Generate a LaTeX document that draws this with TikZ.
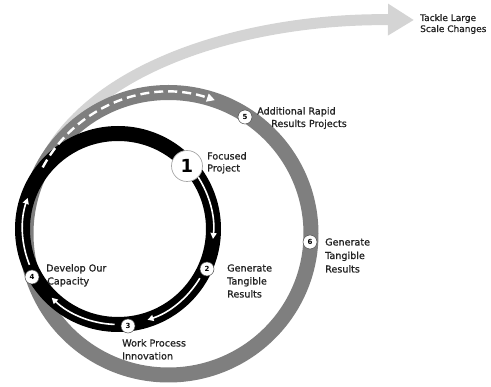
\documentclass[tikz,border=0pt]{standalone}
\usepackage{fontspec}
\setmainfont{DejaVu Sans}
\newfontfamily\lblfont[FakeBold=0.9]{DejaVu Sans}
\usetikzlibrary{arrows.meta,calc}
\definecolor{ringgray}{HTML}{7F7F7F}
\definecolor{lightarrow}{HTML}{D4D4D4}
\definecolor{txt}{HTML}{222222}
\begin{document}
\begin{tikzpicture}[x=1pt,y=1pt,
  lbl/.style={anchor=base west, inner sep=0pt, font=\lblfont\fontsize{9.6}{12}\selectfont, text=txt},
  lblsmall/.style={lbl, font=\lblfont\fontsize{9}{11}\selectfont},
  numsmall/.style={circle, fill=white, draw=black!70, line width=0.5pt, minimum size=14pt, inner sep=0pt, font=\fontsize{7}{8}\selectfont\bfseries},
  numbig/.style={circle, fill=white, draw=black!35, line width=0.7pt, minimum size=31pt, inner sep=0pt, font=\fontsize{18}{20}\selectfont\bfseries},
  whitearrow/.style={white, line width=1.6pt, -{Triangle[width=6pt,length=6pt]}},
  dasharrow/.style={white, line width=2.4pt, dash pattern=on 9pt off 5pt, -{Triangle[width=8pt,length=8pt]}},
]
\useasboundingbox (0,0) rectangle (491,-387);

\coordinate (cb) at (118,-229);
\coordinate (cg) at (168.5,-233.75);
\coordinate (arrstart) at (37,-178);
\coordinate (arrtip) at (414,-20);

% big light arrow
\draw[lightarrow, line width=11pt, -{Triangle[width=30pt,length=26pt]}]
  (arrstart) .. controls (80,-65) and (250,-18) .. (arrtip);

% rings
\draw[ringgray, line width=15pt] (cg) ellipse [x radius=142.5, y radius=141.25];
\draw[black, line width=15pt] (cb) circle [radius=95.5];

% white arrows on the black ring
\draw[whitearrow] ($(cb)+(33:95.5)$) arc[start angle=33, end angle=-6, radius=95.5];
\draw[whitearrow] ($(cb)+(-31:95.5)$) arc[start angle=-31, end angle=-72, radius=95.5];
\draw[whitearrow] ($(cb)+(-92:95.5)$) arc[start angle=-92, end angle=-134, radius=95.5];
\draw[whitearrow] ($(cb)+(-158:95.5)$) arc[start angle=-158, end angle=-199, radius=95.5];

% dashed arrow on the gray ring
\draw[dasharrow] ($(cg)+(152:142.5 and 141.25)$) arc[start angle=152, end angle=71, x radius=142.5, y radius=141.25];

% number markers
\node[numbig]   (n1) at (187,-166) {1};
\node[numsmall] (n2) at (207,-269) {2};
\node[numsmall] (n3) at (128,-326) {3};
\node[numsmall] (n4) at (32,-277) {4};
\node[numsmall] (n5) at (245,-117) {5};
\node[numsmall] (n6) at (310,-242) {6};

% labels
\node[lblsmall] (t0a) at (420,-21) {Tackle Large};
\node[lblsmall] (t0b) at (420,-32) {Scale Changes};
\node[lbl] (t5a) at (257,-114.5) {Additional Rapid};
\node[lbl] (t5b) at (271,-127) {Results Projects};
\node[lbl] (t1a) at (207,-159.5) {Focused};
\node[lbl] (t1b) at (207,-171.5) {Project};
\node[lbl] (t2a) at (227,-271.5) {Generate};
\node[lbl] (t2b) at (227,-284.5) {Tangible};
\node[lbl] (t2c) at (227,-297.5) {Results};
\node[lbl] (t6a) at (325,-245.5) {Generate};
\node[lbl] (t6b) at (325,-259) {Tangible};
\node[lbl] (t6c) at (325,-272.5) {Results};
\node[lbl] (t4a) at (46,-271.5) {Develop Our};
\node[lbl] (t4b) at (47,-284.5) {Capacity};
\node[lbl] (t3a) at (122,-346.5) {Work Process};
\node[lbl] (t3b) at (122,-359.5) {Innovation};
\end{tikzpicture}
\end{document}
